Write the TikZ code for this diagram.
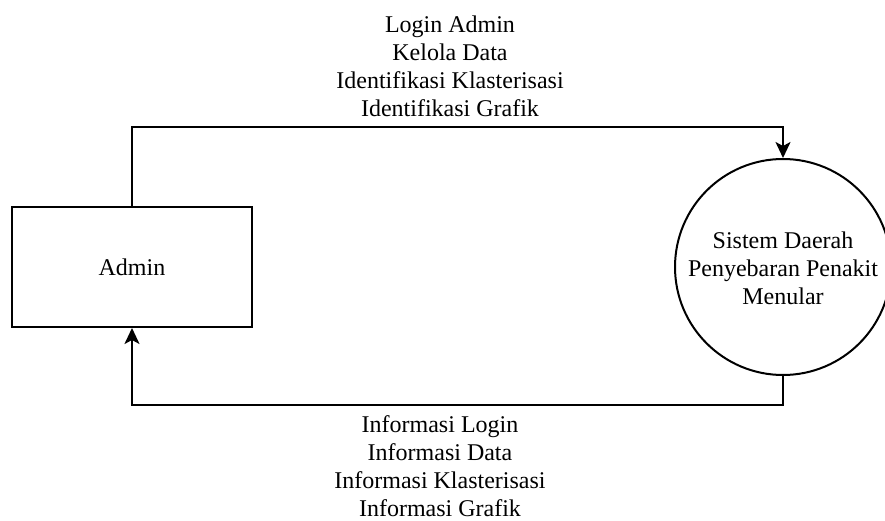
\documentclass[tikz,border=0pt]{standalone}
\usepackage{fontspec}
\setmainfont{Liberation Serif}
\usetikzlibrary{arrows.meta}
\begin{document}
\begin{tikzpicture}[x=1pt,y=-1pt,
  every node/.style={font=\fontsize{24}{28}\selectfont, inner sep=0pt},
  ent/.style={draw, line width=2pt, rectangle, minimum width=240pt, minimum height=120pt},
  proc/.style={draw, line width=2pt, circle, minimum size=216pt},
  flow/.style={line width=2pt, -{Stealth[length=16pt,width=15pt,inset=4pt]}},
  lbl/.style={align=center}]
\useasboundingbox (0,0) rectangle (885,521);
\node[ent] (admin) at (132,267) {Admin};
\node[proc] (sys) at (783,267) {};
\node[lbl] (systxt) at (783,268) {Sistem Daerah\\Penyebaran Penakit\\Menular};
\coordinate (top) at (0,127);
\coordinate (bot) at (0,405);
\draw[flow] (admin.north) -- (admin.north |- top) -| (sys.north);
\draw[flow] (sys.south) -- (sys.south |- bot) -| (admin.south);
\node[lbl] (inlbl) at (450,66) {Login Admin\\Kelola Data\\Identifikasi Klasterisasi\\Identifikasi Grafik};
\node[lbl] (outlbl) at (440,466) {Informasi Login\\Informasi Data\\Informasi Klasterisasi\\Informasi Grafik};
\end{tikzpicture}
\end{document}
